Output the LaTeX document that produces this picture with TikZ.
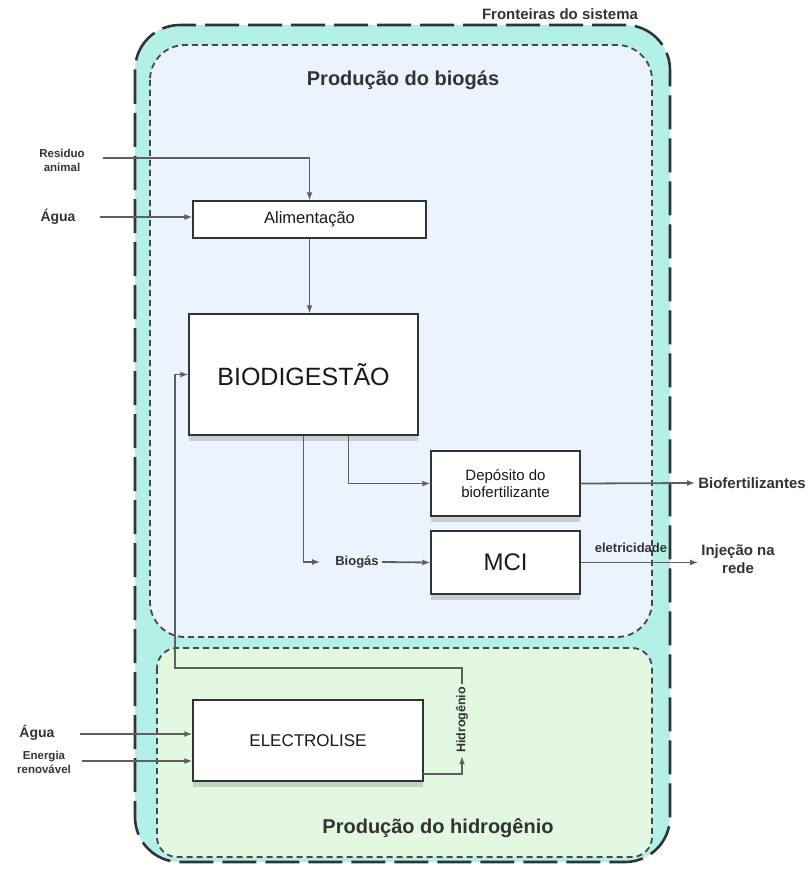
\documentclass[tikz,border=0pt]{standalone}
\usepackage{fontspec}
\setmainfont{Liberation Sans}
\usetikzlibrary{arrows.meta,shadows}

\definecolor{fronteira}{HTML}{B3F1E8}
\definecolor{biogasfill}{HTML}{EBF3FE}
\definecolor{hidrofill}{HTML}{E2F8E1}
\definecolor{linha}{HTML}{5F5F5F}
\definecolor{texto}{HTML}{333333}

\begin{document}
\begin{tikzpicture}[x=1pt, y=-1pt,
    caixa/.style={draw=texto, line width=1.3pt, fill=white, text=black!90, align=center, inner sep=0pt},
    sombra/.style={drop shadow={shadow xshift=0pt, shadow yshift=-6pt, opacity=0.15, fill=black}},
    rotulo/.style={text=texto, font=\bfseries, align=center, inner sep=3pt},
    seta/.style={draw=linha, line width=1.8pt, -{Latex[length=8pt, width=6pt]}},
    regiao/.style={draw=texto!90, line width=1.8pt, dash pattern=on 6pt off 4pt}]
    \useasboundingbox (0,0) rectangle (811,869);

    % Fronteiras do sistema
    \draw[fill=fronteira, draw=texto, line width=2.6pt, dash pattern=on 34pt off 9pt, rounded corners=45pt]
        (135,25) rectangle (670,862);
    \node[text=texto, font=\fontsize{15}{18}\selectfont\bfseries] (fronteiras) at (560,14) {Fronteiras do sistema};

    % Regioes
    \draw[regiao, fill=biogasfill, rounded corners=35pt] (150,45) rectangle (652,637);
    \draw[regiao, fill=hidrofill, rounded corners=20pt] (157,648) rectangle (652,857);
    \node[rotulo, font=\fontsize{20}{24}\selectfont\bfseries] (tbiogas) at (403,80) {Produção do biogás};
    \node[rotulo, font=\fontsize{20}{24}\selectfont\bfseries] (thidro) at (438,828) {Produção do hidrogênio};

    % Caixas
    \node[caixa, minimum width=233pt, minimum height=37pt, font=\fontsize{16.5}{19}\selectfont] (alim) at (309.5,219.5) {Alimentação};
    \node[caixa, sombra, minimum width=229pt, minimum height=121pt, font=\fontsize{25}{29}\selectfont] (biodig) at (303.5,374.5) {BIODIGESTÃO};
    \node[caixa, sombra, minimum width=149pt, minimum height=65pt, font=\fontsize{15}{17}\selectfont] (deposito) at (505.5,483.5) {Depósito do\\biofertilizante};
    \node[caixa, sombra, minimum width=149pt, minimum height=63pt, font=\fontsize{24}{28}\selectfont] (mci) at (505.5,562.5) {MCI};
    \node[caixa, sombra, minimum width=230pt, minimum height=81pt, font=\fontsize{17}{20}\selectfont] (electro) at (308,740.5) {ELECTROLISE};

    % Entradas e saidas
    \node[rotulo, font=\fontsize{11.5}{14}\selectfont\bfseries] (residuo) at (62,160) {Residuo\\animal};
    \node[rotulo, font=\fontsize{14}{16}\selectfont\bfseries] (aguaA) at (58,217) {Água};
    \node[rotulo, font=\fontsize{14}{16}\selectfont\bfseries] (aguaB) at (37,733) {Água};
    \node[rotulo, font=\fontsize{11.5}{14}\selectfont\bfseries] (energia) at (44,762) {Energia\\renovável};
    \node[rotulo, font=\fontsize{13}{15}\selectfont\bfseries] (biogas) at (357,562) {Biogás};
    \node[rotulo, font=\fontsize{15}{17}\selectfont\bfseries] (biofert) at (752,483) {Biofertilizantes};
    \node[rotulo, font=\fontsize{15}{18}\selectfont\bfseries] (injecao) at (738,559) {Injeção na\\rede};
    \node[rotulo, font=\fontsize{13}{15}\selectfont\bfseries] (eletric) at (631,548) {eletricidade};
    \node[rotulo, font=\fontsize{12.5}{15}\selectfont\bfseries, rotate=90] (hidrog) at (462,720) {Hidrogênio};

    \coordinate (residuoin) at (103,158);
    \coordinate (aguaAin) at (100,217);
    \coordinate (aguaBin) at (80,734);
    \coordinate (energiain) at (82,761);
    \coordinate (h2out) at (423,774);
    \coordinate (retorno) at (175,668);

    % Ligacoes
    \draw[seta] (residuoin) -| (alim.north);
    \draw[seta] (aguaAin) -- (aguaAin -| alim.west);
    \draw[seta] (alim.south) -- (alim.south |- biodig.north);
    \draw[seta, shorten >=12pt] (biodig.south) |- (biogas.west);
    \draw[seta] ([xshift=45pt]biodig.south) |- (deposito.west);
    \draw[seta] (biogas.east) -- (mci.west);
    \draw[seta] (deposito.east) -- (biofert.west);
    \draw[seta] (mci.east) -- (injecao.west |- mci.east);
    \draw[seta] (aguaBin) -- (aguaBin -| electro.west);
    \draw[seta] (energiain) -- (energiain -| electro.west);
    \draw[seta] (h2out) -| (hidrog.west);
    \draw[seta] (hidrog.east) |- (retorno) |- (biodig.west);
\end{tikzpicture}
\end{document}
